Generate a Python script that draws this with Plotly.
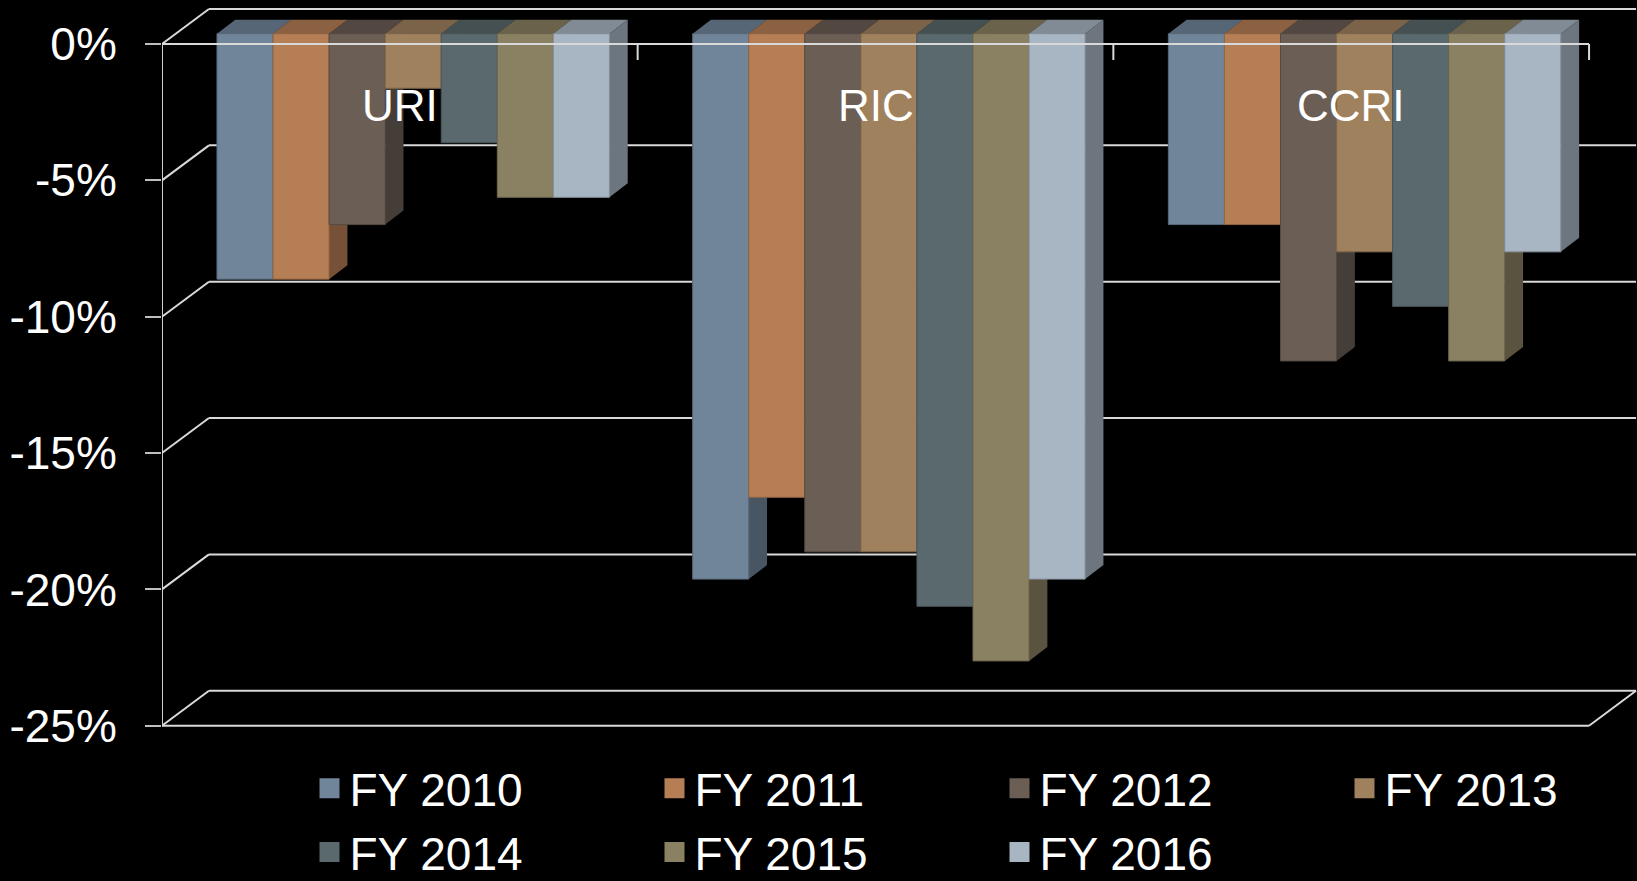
import plotly.graph_objects as go

# ---------- Data ----------
categories = ["URI", "RIC", "CCRI"]
years = ["FY 2010", "FY 2011", "FY 2012", "FY 2013", "FY 2014", "FY 2015", "FY 2016"]

fy2010 = [-9, -20, -7]
fy2011 = [-9, -17, -7]
fy2012 = [-7, -19, -12]
fy2013 = [-2, -19, -8]
fy2014 = [-4, -21, -10]
fy2015 = [-6, -23, -12]
fy2016 = [-6, -20, -8]
series = [fy2010, fy2011, fy2012, fy2013, fy2014, fy2015, fy2016]

y_ticks = [0, -5, -10, -15, -20, -25]

colors = ["#70859A", "#B67E55", "#6B5E55", "#9F815E", "#5A696D", "#8A8062", "#A8B5C3"]

FONT = "Liberation Sans, Arial, sans-serif"
LINE = "#D9D9D9"


def shade(hex_color, f):
    h = hex_color.lstrip("#")
    r, g, b = (int(h[i:i + 2], 16) for i in (0, 2, 4))
    return f"rgb({int(r * f)},{int(g * f)},{int(b * f)})"


# ---------- Geometry (pixels -> axis units) ----------
W, H = 1637, 881
PLOT_L, PLOT_R, PLOT_T, PLOT_B = 162, 1637, 4, 730
CAT_PX = 475.7          # pixels per category
PCT_PX = 27.27          # pixels per 1 %
X0_PX, Y0_PX = 413.2, 33.7   # bar plane: centre of first category, 0 %

x_range = [(PLOT_L - X0_PX) / CAT_PX, (PLOT_R - X0_PX) / CAT_PX]
y_range = [(Y0_PX - PLOT_B) / PCT_PX, (Y0_PX - PLOT_T) / PCT_PX]

FDX, FDY = -13.4 / CAT_PX, -10.3 / PCT_PX   # front plane offset
BDX, BDY = 33.6 / CAT_PX, 24.7 / PCT_PX     # back wall offset
DDX, DDY = 18.3 / CAT_PX, 14.0 / PCT_PX     # bar depth
GROUP_W = 0.825
BAR_W = GROUP_W / len(series)

fig = go.Figure()

# ---------- 3D faces (drawn under the bar fronts) ----------
sides, tops = [], []
for i, (vals, col) in enumerate(zip(series, colors)):
    sx, sy, tx, ty = [], [], [], []
    for c, v in enumerate(vals):
        xl = c - GROUP_W / 2 + i * BAR_W
        xr = xl + BAR_W
        sx += [xr, xr + DDX, xr + DDX, xr, None]
        sy += [0, DDY, v + DDY, v, None]
        tx += [xl, xr, xr + DDX, xl + DDX, None]
        ty += [0, 0, DDY, DDY, None]
    sides.append(go.Scatter(x=sx, y=sy, fill="toself", fillcolor=shade(col, 0.65),
                            mode="lines", line=dict(width=0), hoverinfo="skip",
                            showlegend=False))
    tops.append(go.Scatter(x=tx, y=ty, fill="toself", fillcolor=shade(col, 0.77),
                           mode="lines", line=dict(width=0), hoverinfo="skip",
                           showlegend=False))
for t in sides + tops:
    fig.add_trace(t)

# ---------- Bar fronts (overlay axes so they sit on top of the faces) ----------
for i, (vals, col, name) in enumerate(zip(series, colors, years)):
    fig.add_trace(go.Bar(
        x=list(range(len(categories))), y=vals, name=name, legendgroup=name,
        width=BAR_W, offset=-GROUP_W / 2 + i * BAR_W,
        marker=dict(color=col, line=dict(width=1, color=shade(col, 0.8))),
        xaxis="x2", yaxis="y2", showlegend=False,
        hovertemplate="%{y}%<extra>" + name + "</extra>",
    ))
    # legend entry with a bigger square swatch; 4 per row
    fig.add_trace(go.Scatter(
        x=[None], y=[None], mode="markers", name=name, legendgroup=name,
        legend="legend" if i < 4 else "legend2",
        marker=dict(symbol="square", size=16, color=col,
                    line=dict(width=4, color=col)),
        xaxis="x2", yaxis="y2", hoverinfo="skip",
    ))

# invisible carrier so the percentage axis gets drawn
fig.add_trace(go.Scatter(x=[0] * len(y_ticks), y=y_ticks, yaxis="y3", mode="markers",
                         marker=dict(opacity=0), hoverinfo="skip", showlegend=False))

# ---------- Frame: back wall gridlines, floor, front edges ----------
shapes = []
for t in y_ticks:
    shapes.append(dict(type="line", layer="below", xref="x", yref="y",
                       x0=-0.5 + BDX, x1=2.5 + BDX, y0=t + BDY, y1=t + BDY,
                       line=dict(color=LINE, width=2)))
    shapes.append(dict(type="line", layer="below", xref="x", yref="y",
                       x0=-0.5 + FDX, x1=-0.5 + BDX, y0=t + FDY, y1=t + BDY,
                       line=dict(color=LINE, width=2)))
low = y_ticks[-1]
shapes += [
    dict(type="line", layer="below", xref="x", yref="y",
         x0=-0.5 + FDX, x1=2.5 + FDX, y0=low + FDY, y1=low + FDY,
         line=dict(color=LINE, width=2)),
    dict(type="line", layer="below", xref="x", yref="y",
         x0=2.5 + FDX, x1=2.5 + BDX, y0=low + FDY, y1=low + BDY,
         line=dict(color=LINE, width=2)),
    dict(type="line", layer="above", xref="x", yref="y",
         x0=-0.5 + FDX, x1=-0.5 + FDX, y0=FDY, y1=low + FDY,
         line=dict(color=LINE, width=2)),
    dict(type="line", layer="above", xref="x", yref="y",
         x0=-0.5 + FDX, x1=2.5 + FDX, y0=FDY, y1=FDY,
         line=dict(color=LINE, width=2)),
]
for c in range(len(categories)):
    shapes.append(dict(type="line", layer="above", xref="x", yref="y",
                       x0=c + 0.5 + FDX, x1=c + 0.5 + FDX,
                       y0=FDY, y1=FDY - 16 / PCT_PX,
                       line=dict(color=LINE, width=2)))

annotations = [
    dict(x=c + FDX, y=FDY, xref="x", yref="y", text=name, showarrow=False,
         yanchor="middle", yshift=-61, font=dict(family=FONT, size=44, color="white"))
    for c, name in enumerate(categories)
]

axis_off = dict(showgrid=False, zeroline=False, showticklabels=False, ticks="",
                showline=False)
legend_style = dict(
    orientation="h", x=0.1, xanchor="left", yanchor="top",
    entrywidth=300, entrywidthmode="pixels", traceorder="normal",
    font=dict(family=FONT, size=46, color="white"), bgcolor="rgba(0,0,0,0)",
)

fig.update_layout(
    width=W, height=H, autosize=False,
    paper_bgcolor="black", plot_bgcolor="black",
    margin=dict(l=PLOT_L, r=W - PLOT_R, t=PLOT_T, b=H - PLOT_B, autoexpand=False),
    barmode="overlay",
    xaxis=dict(range=x_range, **axis_off),
    yaxis=dict(range=y_range, **axis_off),
    xaxis2=dict(range=x_range, overlaying="x", **axis_off),
    yaxis2=dict(range=y_range, overlaying="y", **axis_off),
    yaxis3=dict(
        range=[y_range[0] - FDY, y_range[1] - FDY], overlaying="y", anchor="x",
        side="left", tickvals=y_ticks, ticktext=[f"{t}%" for t in y_ticks],
        ticks="outside", ticklen=16, tickwidth=2, tickcolor="#BFBFBF",
        ticklabelstandoff=19, showgrid=False, zeroline=False, showline=False,
        tickfont=dict(family=FONT, size=46, color="white"),
    ),
    shapes=shapes,
    annotations=annotations,
    showlegend=True,
    legend=dict(y=-0.03, **legend_style),
    legend2=dict(y=-0.118, **legend_style),
    hovermode="closest",
)

fig.write_html(
    "out.html",
    config={"displayModeBar": False},
    post_script="document.body.style.margin='0';document.body.style.background='black';",
)
